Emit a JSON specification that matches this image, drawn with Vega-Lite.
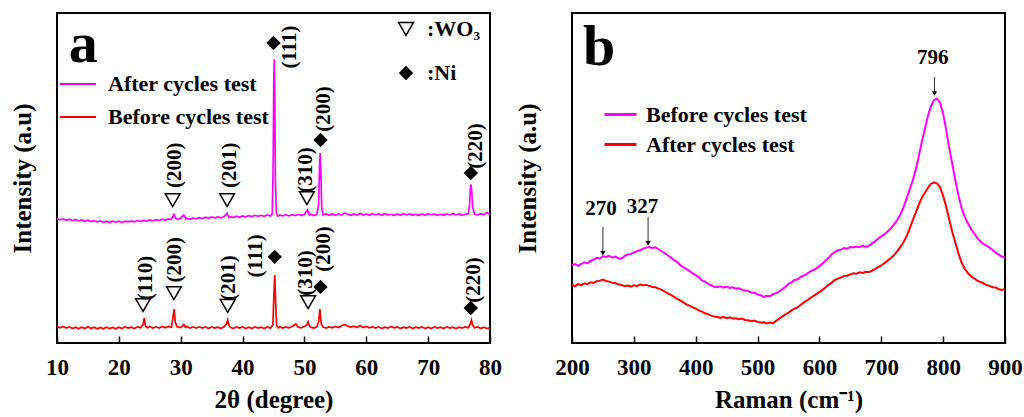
{
  "$schema": "https://vega.github.io/schema/vega-lite/v6.json",
  "padding": {"left": 9, "top": 12, "right": 0, "bottom": 0},
  "spacing": 11,
  "config": {
    "font": "Liberation Serif",
    "view": {"stroke": "black", "strokeWidth": 2},
    "axis": {"labelFont": "Liberation Serif", "titleFont": "Liberation Serif", "labelFontWeight": "bold", "titleFontWeight": "bold", "labelColor": "black", "titleColor": "black", "grid": false},
    "legend": {"padding": 0, "labelFont": "Liberation Serif", "labelFontWeight": "bold", "labelColor": "black", "labelFontSize": 22, "labelLimit": 300}
  },
  "resolve": {"scale": {"color": "independent", "shape": "independent", "fill": "independent", "size": "independent"}},
  "datasets": {
    "aAfter": [
      {"x":10.0,"y":37.7},{"x":10.5,"y":37.3},{"x":11.0,"y":37.6},{"x":11.5,"y":37.2},{"x":12.0,"y":37.5},{"x":12.5,"y":37.1},{"x":13.0,"y":37.4},{"x":13.5,"y":37.0},{"x":14.0,"y":37.3},{"x":14.5,"y":36.9},{"x":15.0,"y":37.2},{"x":15.5,"y":36.8},{"x":16.0,"y":37.1},{"x":16.5,"y":36.7},{"x":17.0,"y":37.0},{"x":17.5,"y":36.6},{"x":18.0,"y":36.9},{"x":18.5,"y":36.5},{"x":19.0,"y":36.9},{"x":19.5,"y":36.6},{"x":20.0,"y":36.9},{"x":20.5,"y":36.5},{"x":21.0,"y":36.9},{"x":21.5,"y":36.7},{"x":22.0,"y":37.0},{"x":22.5,"y":36.7},{"x":23.0,"y":37.1},{"x":23.5,"y":36.8},{"x":24.0,"y":37.2},{"x":24.5,"y":36.9},{"x":25.0,"y":37.3},{"x":25.5,"y":37.0},{"x":26.0,"y":37.4},{"x":26.5,"y":37.1},{"x":27.0,"y":37.5},{"x":27.5,"y":37.2},{"x":28.0,"y":37.6},{"x":28.5,"y":37.4},{"x":28.9,"y":39.0},{"x":29.2,"y":37.8},{"x":29.5,"y":37.5},{"x":30.0,"y":37.9},{"x":30.5,"y":38.8},{"x":30.8,"y":37.6},{"x":31.0,"y":37.8},{"x":31.5,"y":37.5},{"x":32.0,"y":37.9},{"x":32.5,"y":37.6},{"x":33.0,"y":38.0},{"x":33.5,"y":37.7},{"x":34.0,"y":38.1},{"x":34.5,"y":37.8},{"x":35.0,"y":38.2},{"x":35.5,"y":37.9},{"x":36.0,"y":38.2},{"x":36.5,"y":37.9},{"x":37.0,"y":38.3},{"x":37.5,"y":39.3},{"x":37.8,"y":38.0},{"x":38.0,"y":38.3},{"x":38.5,"y":38.0},{"x":39.0,"y":38.4},{"x":39.5,"y":38.1},{"x":40.0,"y":38.5},{"x":40.5,"y":38.2},{"x":41.0,"y":38.6},{"x":41.5,"y":38.3},{"x":42.0,"y":38.7},{"x":42.5,"y":38.4},{"x":43.0,"y":38.7},{"x":43.5,"y":38.4},{"x":44.0,"y":38.8},{"x":44.5,"y":38.5},{"x":44.8,"y":39.2},{"x":44.95,"y":55},{"x":45.05,"y":80},{"x":45.12,"y":86},{"x":45.2,"y":76},{"x":45.3,"y":50},{"x":45.45,"y":39.5},{"x":45.7,"y":38.4},{"x":46.0,"y":38.8},{"x":46.5,"y":38.5},{"x":47.0,"y":38.9},{"x":47.5,"y":38.5},{"x":48.0,"y":38.9},{"x":48.5,"y":38.6},{"x":49.0,"y":39.0},{"x":49.5,"y":38.6},{"x":50.0,"y":39.0},{"x":50.5,"y":40.3},{"x":50.8,"y":38.8},{"x":51.0,"y":39.0},{"x":51.5,"y":38.6},{"x":52.0,"y":39.0},{"x":52.3,"y":42},{"x":52.45,"y":54},{"x":52.55,"y":57.6},{"x":52.65,"y":52},{"x":52.8,"y":41},{"x":53.0,"y":38.8},{"x":53.5,"y":39.1},{"x":54.0,"y":38.7},{"x":54.5,"y":39.1},{"x":55.0,"y":38.7},{"x":55.5,"y":39.1},{"x":56.0,"y":38.8},{"x":56.5,"y":39.4},{"x":57.0,"y":39.0},{"x":57.5,"y":38.7},{"x":58.0,"y":39.1},{"x":58.5,"y":38.7},{"x":59.0,"y":39.3},{"x":59.5,"y":38.8},{"x":60.0,"y":39.1},{"x":60.5,"y":38.7},{"x":61.0,"y":39.2},{"x":61.5,"y":38.8},{"x":62.0,"y":39.1},{"x":62.5,"y":38.7},{"x":63.0,"y":39.2},{"x":63.5,"y":38.8},{"x":64.0,"y":39.0},{"x":64.5,"y":38.6},{"x":65.0,"y":39.1},{"x":65.5,"y":38.7},{"x":66.0,"y":39.2},{"x":66.5,"y":38.8},{"x":67.0,"y":39.1},{"x":67.5,"y":38.7},{"x":68.0,"y":39.0},{"x":68.5,"y":38.6},{"x":69.0,"y":39.1},{"x":69.5,"y":38.7},{"x":70.0,"y":39.2},{"x":70.5,"y":38.8},{"x":71.0,"y":39.1},{"x":71.5,"y":38.7},{"x":72.0,"y":39.0},{"x":72.5,"y":38.7},{"x":73.0,"y":39.1},{"x":73.5,"y":38.8},{"x":74.0,"y":39.2},{"x":74.5,"y":38.8},{"x":75.0,"y":39.1},{"x":75.5,"y":38.7},{"x":76.0,"y":39.0},{"x":76.5,"y":39.2},{"x":76.7,"y":42},{"x":76.85,"y":47.5},{"x":76.95,"y":48},{"x":77.05,"y":46},{"x":77.2,"y":41},{"x":77.5,"y":39.0},{"x":78.0,"y":38.8},{"x":78.5,"y":39.2},{"x":79.0,"y":38.9},{"x":79.5,"y":39.6},{"x":80.0,"y":38.8}
    ],
    "aBefore": [
      {"x":10.0,"y":5.0},{"x":10.5,"y":4.6},{"x":11.0,"y":5.0},{"x":11.5,"y":4.5},{"x":12.0,"y":4.9},{"x":12.5,"y":4.4},{"x":13.0,"y":4.8},{"x":13.5,"y":4.3},{"x":14.0,"y":4.8},{"x":14.5,"y":4.4},{"x":15.0,"y":4.9},{"x":15.5,"y":4.4},{"x":16.0,"y":4.8},{"x":16.5,"y":4.3},{"x":17.0,"y":4.7},{"x":17.5,"y":4.3},{"x":18.0,"y":4.8},{"x":18.5,"y":4.4},{"x":19.0,"y":4.7},{"x":19.5,"y":4.3},{"x":20.0,"y":4.8},{"x":20.5,"y":4.4},{"x":21.0,"y":4.9},{"x":21.5,"y":4.5},{"x":22.0,"y":4.8},{"x":22.5,"y":4.4},{"x":23.0,"y":4.9},{"x":23.5,"y":4.6},{"x":23.9,"y":5.5},{"x":24.1,"y":7.5},{"x":24.3,"y":5.2},{"x":24.6,"y":4.6},{"x":25.0,"y":5.0},{"x":25.5,"y":4.5},{"x":26.0,"y":4.9},{"x":26.5,"y":4.5},{"x":27.0,"y":5.0},{"x":27.5,"y":4.6},{"x":28.0,"y":5.0},{"x":28.5,"y":4.8},{"x":28.8,"y":8.5},{"x":28.95,"y":10.3},{"x":29.1,"y":6.5},{"x":29.4,"y":4.9},{"x":30.0,"y":4.7},{"x":30.5,"y":5.6},{"x":30.8,"y":4.7},{"x":31.0,"y":5.0},{"x":31.5,"y":4.5},{"x":32.0,"y":4.9},{"x":32.5,"y":4.5},{"x":33.0,"y":4.9},{"x":33.5,"y":4.5},{"x":34.0,"y":4.9},{"x":34.5,"y":4.4},{"x":35.0,"y":4.9},{"x":35.5,"y":4.5},{"x":36.0,"y":4.8},{"x":36.5,"y":4.4},{"x":37.0,"y":4.9},{"x":37.4,"y":5.8},{"x":37.6,"y":7.0},{"x":37.8,"y":5.3},{"x":38.0,"y":4.8},{"x":38.5,"y":4.4},{"x":39.0,"y":4.9},{"x":39.5,"y":4.5},{"x":40.0,"y":4.9},{"x":40.5,"y":4.4},{"x":41.0,"y":4.8},{"x":41.5,"y":4.4},{"x":42.0,"y":4.9},{"x":42.5,"y":4.5},{"x":43.0,"y":4.8},{"x":43.5,"y":4.4},{"x":44.0,"y":4.9},{"x":44.5,"y":4.5},{"x":44.9,"y":5.5},{"x":45.05,"y":14},{"x":45.2,"y":20.6},{"x":45.35,"y":12},{"x":45.5,"y":5.3},{"x":45.8,"y":4.6},{"x":46.0,"y":4.9},{"x":46.5,"y":4.5},{"x":47.0,"y":4.9},{"x":47.5,"y":4.6},{"x":48.0,"y":5.0},{"x":48.6,"y":5.7},{"x":49.0,"y":4.8},{"x":49.5,"y":4.6},{"x":50.0,"y":5.0},{"x":50.4,"y":5.5},{"x":50.6,"y":6.4},{"x":50.8,"y":5.3},{"x":51.0,"y":4.8},{"x":51.5,"y":4.5},{"x":52.0,"y":4.9},{"x":52.3,"y":6.5},{"x":52.5,"y":10.3},{"x":52.7,"y":6.0},{"x":53.0,"y":4.8},{"x":53.5,"y":4.5},{"x":54.0,"y":4.9},{"x":54.5,"y":4.6},{"x":55.0,"y":5.0},{"x":55.5,"y":4.7},{"x":56.0,"y":5.2},{"x":56.5,"y":5.6},{"x":57.0,"y":5.1},{"x":57.5,"y":4.8},{"x":58.0,"y":5.1},{"x":58.5,"y":4.7},{"x":59.0,"y":5.3},{"x":59.5,"y":4.7},{"x":60.0,"y":5.0},{"x":60.5,"y":4.6},{"x":61.0,"y":4.9},{"x":61.5,"y":4.5},{"x":62.0,"y":4.9},{"x":62.5,"y":4.4},{"x":63.0,"y":4.8},{"x":63.5,"y":4.5},{"x":64.0,"y":5.0},{"x":64.5,"y":4.6},{"x":65.0,"y":4.9},{"x":65.5,"y":4.4},{"x":66.0,"y":4.8},{"x":66.5,"y":4.5},{"x":67.0,"y":4.9},{"x":67.5,"y":4.4},{"x":68.0,"y":4.8},{"x":68.5,"y":4.5},{"x":69.0,"y":4.9},{"x":69.5,"y":4.4},{"x":70.0,"y":4.8},{"x":70.5,"y":4.4},{"x":71.0,"y":4.9},{"x":71.5,"y":4.5},{"x":72.0,"y":4.8},{"x":72.5,"y":4.4},{"x":73.0,"y":4.9},{"x":73.5,"y":4.5},{"x":74.0,"y":4.8},{"x":74.5,"y":4.4},{"x":75.0,"y":4.8},{"x":75.5,"y":4.5},{"x":76.0,"y":4.9},{"x":76.5,"y":4.6},{"x":76.8,"y":5.8},{"x":77.0,"y":7.0},{"x":77.2,"y":5.4},{"x":77.5,"y":4.6},{"x":78.0,"y":4.9},{"x":78.5,"y":4.4},{"x":79.0,"y":4.8},{"x":79.5,"y":4.4},{"x":80.0,"y":4.6}
    ],
    "annA": [
      {"ph":"WO3","mx":28.7,"my":43.3,"lx":29.1,"ly":53.9,"t":"(200)"},
      {"ph":"WO3","mx":37.5,"my":43.3,"lx":38.0,"ly":53.9,"t":"(201)"},
      {"ph":"WO3","mx":50.4,"my":43.9,"lx":50.3,"ly":52.4,"t":"(310)"},
      {"ph":"Ni","mx":45.0,"my":90.9,"lx":47.7,"ly":89.7,"t":"(111)"},
      {"ph":"Ni","mx":52.6,"my":61.5,"lx":53.2,"ly":70.9,"t":"(200)"},
      {"ph":"Ni","mx":76.9,"my":51.5,"lx":77.7,"ly":59.7,"t":"(220)"},
      {"ph":"WO3","mx":23.9,"my":11.5,"lx":24.4,"ly":19.7,"t":"(110)"},
      {"ph":"WO3","mx":28.9,"my":15.1,"lx":29.0,"ly":25.2,"t":"(200)"},
      {"ph":"WO3","mx":37.6,"my":11.2,"lx":37.8,"ly":19.7,"t":"(201)"},
      {"ph":"Ni","mx":45.2,"my":26.1,"lx":42.2,"ly":26.4,"t":"(111)"},
      {"ph":"WO3","mx":50.6,"my":12.4,"lx":50.3,"ly":21.2,"t":"(310)"},
      {"ph":"Ni","mx":52.6,"my":17.0,"lx":53.2,"ly":28.5,"t":"(200)"},
      {"ph":"Ni","mx":76.9,"my":10.6,"lx":77.4,"ly":19.1,"t":"(220)"}
    ],
    "bBefore": [
      {"x":200,"y":23.6},{"x":205,"y":23.9},{"x":210,"y":23.4},{"x":215,"y":24.0},{"x":220,"y":24.4},{"x":225,"y":24.2},{"x":230,"y":24.9},{"x":235,"y":25.3},{"x":240,"y":25.8},{"x":245,"y":25.6},{"x":250,"y":26.3},{"x":255,"y":26.1},{"x":260,"y":26.4},{"x":265,"y":25.9},{"x":270,"y":26.2},{"x":275,"y":25.7},{"x":280,"y":25.6},{"x":285,"y":26.3},{"x":290,"y":26.8},{"x":295,"y":27.0},{"x":300,"y":27.4},{"x":305,"y":27.8},{"x":310,"y":28.1},{"x":315,"y":28.6},{"x":320,"y":28.9},{"x":325,"y":29.1},{"x":330,"y":28.8},{"x":335,"y":29.0},{"x":340,"y":28.4},{"x":345,"y":27.8},{"x":350,"y":27.2},{"x":355,"y":26.5},{"x":360,"y":25.9},{"x":365,"y":25.1},{"x":370,"y":24.5},{"x":375,"y":23.6},{"x":380,"y":23.0},{"x":385,"y":22.4},{"x":390,"y":21.8},{"x":395,"y":21.1},{"x":400,"y":20.6},{"x":405,"y":19.9},{"x":410,"y":19.0},{"x":415,"y":18.6},{"x":420,"y":17.9},{"x":425,"y":17.5},{"x":430,"y":17.0},{"x":435,"y":16.9},{"x":440,"y":17.2},{"x":445,"y":16.8},{"x":450,"y":17.1},{"x":455,"y":16.7},{"x":460,"y":16.9},{"x":465,"y":16.5},{"x":470,"y":16.6},{"x":475,"y":16.1},{"x":480,"y":15.9},{"x":485,"y":15.7},{"x":490,"y":15.3},{"x":495,"y":15.2},{"x":500,"y":14.7},{"x":505,"y":14.5},{"x":510,"y":14.0},{"x":515,"y":14.3},{"x":520,"y":14.2},{"x":525,"y":14.8},{"x":530,"y":15.1},{"x":535,"y":15.6},{"x":540,"y":16.3},{"x":545,"y":17.0},{"x":550,"y":17.9},{"x":555,"y":18.4},{"x":560,"y":19.1},{"x":565,"y":19.3},{"x":570,"y":20.1},{"x":575,"y":20.4},{"x":580,"y":21.0},{"x":585,"y":21.6},{"x":590,"y":22.1},{"x":595,"y":22.6},{"x":600,"y":23.3},{"x":605,"y":24.1},{"x":610,"y":25.0},{"x":615,"y":25.8},{"x":620,"y":26.9},{"x":625,"y":27.6},{"x":630,"y":28.1},{"x":635,"y":28.3},{"x":640,"y":28.8},{"x":645,"y":28.6},{"x":650,"y":29.1},{"x":655,"y":29.0},{"x":660,"y":29.2},{"x":665,"y":29.0},{"x":670,"y":29.5},{"x":675,"y":29.1},{"x":680,"y":29.4},{"x":685,"y":30.2},{"x":690,"y":30.8},{"x":695,"y":31.6},{"x":700,"y":32.3},{"x":705,"y":32.9},{"x":710,"y":33.8},{"x":715,"y":34.6},{"x":720,"y":35.8},{"x":725,"y":37.0},{"x":730,"y":38.6},{"x":735,"y":40.6},{"x":740,"y":43.3},{"x":745,"y":46.0},{"x":750,"y":48.8},{"x":755,"y":52.0},{"x":760,"y":56.0},{"x":765,"y":60.5},{"x":770,"y":64.5},{"x":775,"y":68.5},{"x":780,"y":71.6},{"x":785,"y":73.6},{"x":790,"y":74.1},{"x":795,"y":72.8},{"x":800,"y":69.5},{"x":805,"y":64.5},{"x":810,"y":59.0},{"x":815,"y":54.0},{"x":820,"y":49.0},{"x":825,"y":44.5},{"x":830,"y":40.8},{"x":835,"y":38.2},{"x":840,"y":36.3},{"x":845,"y":34.6},{"x":850,"y":33.2},{"x":855,"y":31.9},{"x":860,"y":30.8},{"x":865,"y":30.0},{"x":870,"y":29.5},{"x":875,"y":28.9},{"x":880,"y":28.2},{"x":885,"y":27.4},{"x":890,"y":26.8},{"x":895,"y":26.2},{"x":900,"y":25.8}
    ],
    "bAfter": [
      {"x":200,"y":17.6},{"x":205,"y":17.2},{"x":210,"y":17.9},{"x":215,"y":17.5},{"x":220,"y":18.1},{"x":225,"y":17.8},{"x":230,"y":18.4},{"x":235,"y":18.2},{"x":240,"y":18.7},{"x":245,"y":18.9},{"x":250,"y":19.2},{"x":255,"y":18.8},{"x":260,"y":18.6},{"x":265,"y":18.3},{"x":270,"y":18.1},{"x":275,"y":17.8},{"x":280,"y":17.6},{"x":285,"y":17.2},{"x":290,"y":17.4},{"x":295,"y":17.1},{"x":300,"y":17.5},{"x":305,"y":17.3},{"x":310,"y":17.7},{"x":315,"y":17.5},{"x":320,"y":17.6},{"x":325,"y":17.3},{"x":330,"y":17.0},{"x":335,"y":16.9},{"x":340,"y":16.5},{"x":345,"y":16.1},{"x":350,"y":15.6},{"x":355,"y":15.0},{"x":360,"y":14.6},{"x":365,"y":14.0},{"x":370,"y":13.4},{"x":375,"y":12.9},{"x":380,"y":12.3},{"x":385,"y":11.7},{"x":390,"y":11.3},{"x":395,"y":10.8},{"x":400,"y":10.4},{"x":405,"y":9.9},{"x":410,"y":9.5},{"x":415,"y":9.0},{"x":420,"y":8.7},{"x":425,"y":8.3},{"x":430,"y":8.0},{"x":435,"y":7.9},{"x":440,"y":7.6},{"x":445,"y":7.9},{"x":450,"y":7.5},{"x":455,"y":7.8},{"x":460,"y":7.4},{"x":465,"y":7.5},{"x":470,"y":7.2},{"x":475,"y":7.4},{"x":480,"y":7.0},{"x":485,"y":6.9},{"x":490,"y":6.6},{"x":495,"y":6.8},{"x":500,"y":6.4},{"x":505,"y":6.2},{"x":510,"y":6.3},{"x":515,"y":5.9},{"x":520,"y":6.2},{"x":525,"y":6.0},{"x":530,"y":6.7},{"x":535,"y":7.4},{"x":540,"y":8.0},{"x":545,"y":8.7},{"x":550,"y":9.2},{"x":555,"y":9.9},{"x":560,"y":10.4},{"x":565,"y":10.9},{"x":570,"y":11.6},{"x":575,"y":12.3},{"x":580,"y":12.9},{"x":585,"y":13.6},{"x":590,"y":14.2},{"x":595,"y":14.8},{"x":600,"y":15.4},{"x":605,"y":16.1},{"x":610,"y":16.9},{"x":615,"y":17.6},{"x":620,"y":18.3},{"x":625,"y":19.1},{"x":630,"y":19.5},{"x":635,"y":19.9},{"x":640,"y":20.3},{"x":645,"y":20.4},{"x":650,"y":20.8},{"x":655,"y":21.1},{"x":660,"y":21.0},{"x":665,"y":21.4},{"x":670,"y":21.2},{"x":675,"y":21.6},{"x":680,"y":21.5},{"x":685,"y":21.9},{"x":690,"y":22.4},{"x":695,"y":23.0},{"x":700,"y":23.5},{"x":705,"y":24.2},{"x":710,"y":24.9},{"x":715,"y":25.7},{"x":720,"y":26.5},{"x":725,"y":27.6},{"x":730,"y":28.9},{"x":735,"y":30.2},{"x":740,"y":32.0},{"x":745,"y":34.2},{"x":750,"y":36.8},{"x":755,"y":39.1},{"x":760,"y":41.6},{"x":765,"y":43.8},{"x":770,"y":45.4},{"x":775,"y":46.9},{"x":780,"y":48.2},{"x":785,"y":48.7},{"x":790,"y":48.4},{"x":795,"y":47.2},{"x":800,"y":44.6},{"x":805,"y":41.2},{"x":810,"y":37.3},{"x":815,"y":33.5},{"x":820,"y":30.2},{"x":825,"y":27.0},{"x":830,"y":24.3},{"x":835,"y":22.5},{"x":840,"y":21.2},{"x":845,"y":20.2},{"x":850,"y":19.6},{"x":855,"y":18.9},{"x":860,"y":18.5},{"x":865,"y":18.1},{"x":870,"y":17.6},{"x":875,"y":17.3},{"x":880,"y":16.9},{"x":885,"y":16.8},{"x":890,"y":16.3},{"x":895,"y":16.1},{"x":900,"y":16.4}
    ],
    "annB": [
      {"x":786,"tx":783,"ty":86.4,"y1":80.6,"y2":75.6,"t":"796"},
      {"x":250,"tx":247,"ty":40.6,"y1":35.2,"y2":27.2,"t":"270"},
      {"x":323,"tx":314,"ty":41.2,"y1":38.2,"y2":30.2,"t":"327"}
    ]
  },
  "hconcat": [
    {
      "width": 433,
      "height": 330,
      "layer": [
        {
          "data": {"name": "aAfter"},
          "mark": {"type": "line", "strokeWidth": 1.7},
          "encoding": {
            "x": {"field": "x", "type": "quantitative", "scale": {"domain": [10, 80], "nice": false, "zero": false},
                  "axis": {"orient": "bottom", "values": [10,15,20,25,30,35,40,45,50,55,60,65,70,75,80], "labelExpr": "datum.value % 10 == 0 ? datum.label : ''", "title": "2θ (degree)", "domain": false, "tickColor": "black", "tickWidth": 1.5, "tickSize": {"condition": {"test": "datum.value % 10 == 0", "value": -7}, "value": -4}, "labelPadding": 20, "labelFontSize": 23, "labelFlush": false, "labelOverlap": false, "titleFontSize": 25, "titlePadding": 8}},
            "y": {"field": "y", "type": "quantitative", "scale": {"domain": [0, 100], "nice": false},
                  "axis": {"title": "Intensity (a.u)", "ticks": false, "labels": false, "domain": false, "titleFontSize": 25, "titlePadding": 22}},
            "color": {"datum": "After cycles test", "type": "nominal",
                      "scale": {"domain": ["After cycles test", "Before cycles test"], "range": ["#ff00ff", "#ff0000"]},
                      "legend": {"orient": "none", "legendX": 2, "legendY": 52, "title": null, "symbolType": "stroke", "symbolSize": 1296, "symbolStrokeWidth": 2, "labelOffset": 11, "rowPadding": 3}}
          }
        },
        {
          "data": {"name": "aBefore"},
          "mark": {"type": "line", "strokeWidth": 1.7},
          "encoding": {
            "x": {"field": "x", "type": "quantitative"},
            "y": {"field": "y", "type": "quantitative"},
            "color": {"datum": "Before cycles test", "type": "nominal"}
          }
        },
        {
          "data": {"name": "annA"},
          "mark": {"type": "point", "stroke": "black", "strokeWidth": 1.5, "opacity": 1},
          "encoding": {
            "x": {"field": "mx", "type": "quantitative"},
            "y": {"field": "my", "type": "quantitative"},
            "shape": {"field": "ph", "type": "nominal", "scale": {"domain": ["WO3", "Ni"], "range": ["triangle-down", "diamond"]},
                      "legend": {"orient": "none", "legendX": 338, "legendY": 5, "title": null, "labelExpr": "datum.label == 'WO3' ? ':WO₃' : ':Ni'", "labelOffset": 10, "rowPadding": 22}},
            "fill": {"field": "ph", "type": "nominal", "scale": {"domain": ["WO3", "Ni"], "range": ["white", "black"]},
                      "legend": {"orient": "none", "legendX": 338, "legendY": 5, "title": null, "labelExpr": "datum.label == 'WO3' ? ':WO₃' : ':Ni'", "labelOffset": 10, "rowPadding": 22}},
            "size": {"field": "ph", "type": "nominal", "scale": {"domain": ["WO3", "Ni"], "range": [220, 150]},
                      "legend": {"orient": "none", "legendX": 338, "legendY": 5, "title": null, "labelExpr": "datum.label == 'WO3' ? ':WO₃' : ':Ni'", "labelOffset": 10, "rowPadding": 22}}
          }
        },
        {
          "data": {"name": "annA"},
          "mark": {"type": "text", "angle": 270, "fontSize": 21, "fontWeight": "bold", "font": "Liberation Serif", "align": "center", "baseline": "middle", "color": "black"},
          "encoding": {
            "x": {"field": "lx", "type": "quantitative"},
            "y": {"field": "ly", "type": "quantitative"},
            "text": {"field": "t"}
          }
        },
        {
          "data": {"values": [{"t": "a"}]},
          "mark": {"type": "text", "fontSize": 58, "fontWeight": "bold", "font": "Liberation Serif", "align": "left", "baseline": "alphabetic", "color": "black"},
          "encoding": {
            "x": {"datum": 11.9, "type": "quantitative"},
            "y": {"datum": 85.2, "type": "quantitative"},
            "text": {"field": "t"}
          }
        }
      ]
    },
    {
      "width": 433,
      "height": 330,
      "layer": [
        {
          "data": {"name": "bBefore"},
          "mark": {"type": "line", "strokeWidth": 2},
          "encoding": {
            "x": {"field": "x", "type": "quantitative", "scale": {"domain": [200, 900], "nice": false, "zero": false},
                  "axis": {"orient": "bottom", "values": [200,250,300,350,400,450,500,550,600,650,700,750,800,850,900], "labelExpr": "datum.value % 100 == 0 ? datum.label : ''", "title": "Raman (cm⁻¹)", "domain": false, "tickColor": "black", "tickWidth": 1.5, "tickSize": {"condition": {"test": "datum.value % 100 == 0", "value": -7}, "value": -4}, "labelPadding": 20, "labelFontSize": 23, "labelFlush": false, "labelOverlap": false, "titleFontSize": 25, "titlePadding": 8}},
            "y": {"field": "y", "type": "quantitative", "scale": {"domain": [0, 100], "nice": false},
                  "axis": {"title": "Intensity (a.u)", "ticks": false, "labels": false, "domain": false, "titleFontSize": 25, "titlePadding": 32}},
            "color": {"datum": "Before cycles test", "type": "nominal",
                      "scale": {"domain": ["Before cycles test", "After cycles test"], "range": ["#ff00ff", "#ff0000"]},
                      "legend": {"orient": "none", "legendX": 31, "legendY": 84, "title": null, "symbolType": "stroke", "symbolSize": 1024, "symbolStrokeWidth": 3, "labelOffset": 8, "rowPadding": 1}}
          }
        },
        {
          "data": {"name": "bAfter"},
          "mark": {"type": "line", "strokeWidth": 2},
          "encoding": {
            "x": {"field": "x", "type": "quantitative"},
            "y": {"field": "y", "type": "quantitative"},
            "color": {"datum": "After cycles test", "type": "nominal"}
          }
        },
        {
          "data": {"name": "annB"},
          "mark": {"type": "rule", "color": "#333333", "strokeWidth": 1},
          "encoding": {
            "x": {"field": "x", "type": "quantitative"},
            "y": {"field": "y1", "type": "quantitative"},
            "y2": {"field": "y2"}
          }
        },
        {
          "data": {"name": "annB"},
          "mark": {"type": "point", "shape": "triangle-down", "filled": true, "color": "black", "size": 28, "opacity": 1},
          "encoding": {
            "x": {"field": "x", "type": "quantitative"},
            "y": {"field": "y2", "type": "quantitative"}
          }
        },
        {
          "data": {"name": "annB"},
          "mark": {"type": "text", "fontSize": 21, "fontWeight": "bold", "font": "Liberation Serif", "align": "center", "baseline": "middle", "color": "black"},
          "encoding": {
            "x": {"field": "tx", "type": "quantitative"},
            "y": {"field": "ty", "type": "quantitative"},
            "text": {"field": "t"}
          }
        },
        {
          "data": {"values": [{"t": "b"}]},
          "mark": {"type": "text", "fontSize": 58, "fontWeight": "bold", "font": "Liberation Serif", "align": "left", "baseline": "alphabetic", "color": "black"},
          "encoding": {
            "x": {"datum": 217.7, "type": "quantitative"},
            "y": {"datum": 84.2, "type": "quantitative"},
            "text": {"field": "t"}
          }
        }
      ]
    }
  ]
}
